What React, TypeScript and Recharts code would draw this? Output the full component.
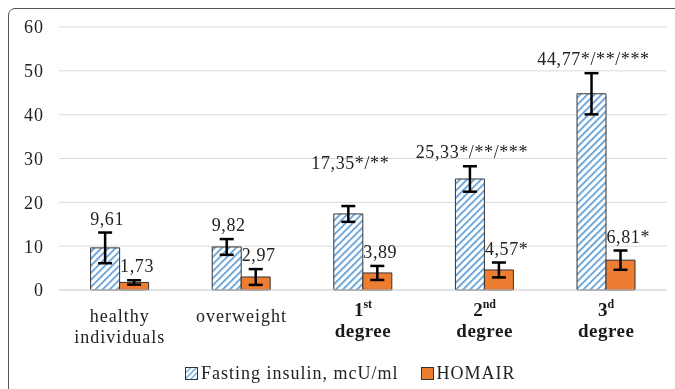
import { BarChart, Bar, XAxis, YAxis, CartesianGrid, ErrorBar, LabelList } from "recharts";

const categories = ["healthy individuals", "overweight", "1st degree", "2nd degree", "3d degree"];
const fasting = [9.61, 9.82, 17.35, 25.33, 44.77];
const fastingErr = [3.5, 1.8, 1.8, 2.9, 4.7];
const fastingLabels = ["9,61", "9,82", "17,35*/**", "25,33*/**/***", "44,77*/**/***"];
const homa = [1.73, 2.97, 3.89, 4.57, 6.81];
const homaErr = [0.5, 1.8, 1.6, 1.7, 2.2];
const homaLabels = ["1,73", "2,97", "3,89", "4,57*", "6,81*"];
const yTicks = [0, 10, 20, 30, 40, 50, 60];

const data = categories.map((name, i) => ({
  name,
  fasting: fasting[i],
  fastingErr: fastingErr[i],
  homa: homa[i],
  homaErr: homaErr[i],
}));

const FONT = "Liberation Serif";
const BLUE = "#5B9BD5";
const ORANGE = "#ED7D31";
// extra lift for the 1st degree insulin label, as in the source figure
const extraLift = [0, 0, 29, 0, 0];

function makeLabel(texts: string[], errs: number[], values: number[], anchor: "middle" | "start", lift: number[]) {
  return (props: any) => {
    const { x, y, width, height, index } = props;
    const scale = height / values[index];
    const top = y - errs[index] * scale;
    const cx = x + width / 2;
    return (
      <text
        x={anchor === "middle" ? cx + 2 : cx - 14}
        y={top - 8 - lift[index]}
        textAnchor={anchor}
        fontFamily={FONT}
        fontSize={18}
        letterSpacing={0.6}
        fill="#222"
      >
        {texts[index]}
      </text>
    );
  };
}

function XTick(props: any) {
  const { x, y, payload } = props;
  const label: string = payload.value;
  const m = label.match(/^(\d)(st|nd|d) degree$/);
  if (m) {
    return (
      <g transform={`translate(${x},${y})`} fontFamily={FONT} fill="#1a1a1a" fontWeight="bold">
        <text x={0} y={26} textAnchor="middle" fontSize={19}>
          {m[1]}
          <tspan fontSize={12} dy={-8}>{m[2]}</tspan>
        </text>
        <text x={0} y={47} textAnchor="middle" fontSize={19} letterSpacing={0.5}>degree</text>
      </g>
    );
  }
  const lines = label === "healthy individuals" ? ["healthy", "individuals"] : [label];
  return (
    <g transform={`translate(${x},${y})`} fontFamily={FONT} fill="#222">
      {lines.map((l, i) => (
        <text key={l} x={0} y={32 + i * 21} textAnchor="middle" fontSize={18} letterSpacing={1}>
          {l}
        </text>
      ))}
    </g>
  );
}

export default function App() {
  return (
    <div style={{ position: "relative", width: 659, height: 370, overflow: "hidden" }}>
      <div
        style={{
          position: "fixed",
          left: 8,
          top: 8,
          width: 700,
          height: 420,
          border: "1px solid #555",
          borderRadius: 7,
          boxSizing: "border-box",
          pointerEvents: "none",
        }}
      />
      <BarChart
        width={659}
        height={370}
        data={data}
        margin={{ top: 19, right: 0, bottom: 28, left: 11 }}
        barCategoryGap="26%"
        barGap={0}
      >
        <defs>
          <pattern id="hatch" patternUnits="userSpaceOnUse" width={5} height={5} patternTransform="rotate(45)">
            <rect width={5} height={5} fill="#fff" />
            <line x1={0} y1={0} x2={0} y2={5} stroke={BLUE} strokeWidth={3.4} />
          </pattern>
        </defs>
        <CartesianGrid vertical={false} stroke="#d9d9d9" />
        <XAxis
          dataKey="name"
          height={60}
          axisLine={{ stroke: "#d9d9d9" }}
          tickLine={false}
          tickSize={0}
          tickMargin={0}
          tick={<XTick />}
          interval={0}
        />
        <YAxis
          width={40}
          domain={[0, 60]}
          ticks={yTicks}
          axisLine={false}
          tickLine={false}
          tickSize={0}
          tickMargin={15}
          tick={{ fontFamily: FONT, fontSize: 18, letterSpacing: 1, fill: "#222" }}
        />
        <Bar dataKey="fasting" fill="url(#hatch)" stroke="#333" strokeWidth={1} isAnimationActive={false}>
          <ErrorBar dataKey="fastingErr" width={7} strokeWidth={2.5} stroke="#000" direction="y" />
          <LabelList dataKey="fasting" content={makeLabel(fastingLabels, fastingErr, fasting, "middle", extraLift)} />
        </Bar>
        <Bar dataKey="homa" fill={ORANGE} stroke="#333" strokeWidth={1} isAnimationActive={false}>
          <ErrorBar dataKey="homaErr" width={7} strokeWidth={2.5} stroke="#000" direction="y" />
          <LabelList dataKey="homa" content={makeLabel(homaLabels, homaErr, homa, "start", [0, 0, 0, 0, 0])} />
        </Bar>
      </BarChart>
      <div
        style={{
          position: "fixed",
          left: 185,
          top: 365,
          display: "flex",
          alignItems: "center",
          fontFamily: FONT,
          fontSize: 18,
          letterSpacing: 1,
          lineHeight: "16px",
          color: "#222",
        }}
      >
        <svg width={13} height={13} style={{ marginRight: 3 }}>
          <defs>
            <pattern id="hatchLegend" patternUnits="userSpaceOnUse" width={4} height={4} patternTransform="rotate(45)">
              <rect width={4} height={4} fill="#fff" />
              <line x1={0} y1={0} x2={0} y2={4} stroke={BLUE} strokeWidth={2.4} />
            </pattern>
          </defs>
          <rect x={0.5} y={0.5} width={12} height={12} fill="url(#hatchLegend)" stroke="#333" />
        </svg>
        <span>Fasting insulin, mcU/ml</span>
        <svg width={13} height={13} style={{ marginLeft: 22, marginRight: 3 }}>
          <rect x={0.5} y={0.5} width={12} height={12} fill={ORANGE} stroke="#333" />
        </svg>
        <span>HOMAIR</span>
      </div>
    </div>
  );
}
